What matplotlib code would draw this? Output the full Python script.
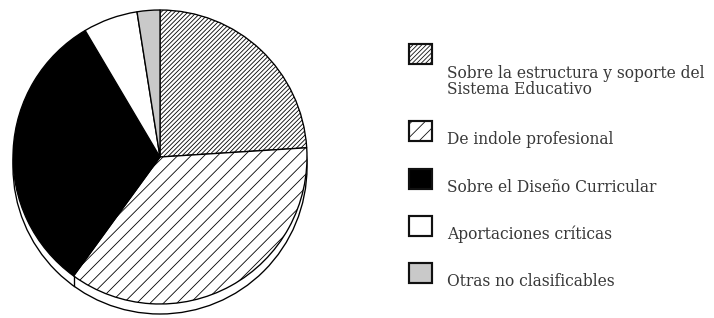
import numpy as np
import matplotlib.pyplot as plt
from matplotlib.patches import Circle, Rectangle

# shares of the pie (percent)
categories = ['Sobre la estructura y soporte del\nSistema Educativo',
              'De indole profesional',
              'Sobre el Diseño Curricular',
              'Aportaciones críticas',
              'Otras no clasificables']
shares = [24, 36, 31.5, 6, 2.5]

colors = ['white', 'white', 'black', 'white', '#c9c9c9']
hatches = ['/////////', '///', '', '', '']

plt.rcParams['hatch.linewidth'] = 0.5
plt.rcParams['hatch.color'] = '#222222'

DPI = 120
W, H = 714, 318
fig = plt.figure(figsize=(W / DPI, H / DPI), dpi=DPI)
ax = fig.add_axes([0, 0, 1, 1])

# pie geometry in pixel units (y up)
cx, cy, r = 160, 161, 147
depth = 10

# rim of the "disc" peeking out under the pie
ax.add_patch(Circle((cx, cy - depth), r, facecolor='white', edgecolor='black', linewidth=0.8))

wedges, _ = ax.pie(shares, colors=colors, hatch=hatches, startangle=90, counterclock=False,
                   radius=r, center=(cx, cy),
                   wedgeprops=dict(edgecolor='black', linewidth=0.8))

# little edge on the rim where slice 2 meets slice 3
a = np.deg2rad(90 - 360 * sum(shares[:2]) / sum(shares))
ex, ey = cx + r * np.cos(a), cy + r * np.sin(a)
ax.plot([ex, ex], [ey, ey - depth], color='black', lw=0.8)

# legend, drawn by hand
box_x, bw, bh = 409, 23, 20
box_y = [54, 131, 179, 226, 273]   # box centers, image coords (y down)
text_dy = 20                       # first text line sits lower than its box
line_gap = 16
for lab, c, h, yc in zip(categories, colors, hatches, box_y):
    y = H - yc
    ax.add_patch(Rectangle((box_x, y - bh / 2), bw, bh, facecolor=c, hatch=h,
                           edgecolor='#111111', linewidth=1.3))
    lines = lab.split('\n')
    dy = text_dy if len(lines) > 1 else 8
    for i, line in enumerate(lines):
        ax.text(box_x + 38, y - dy - i * line_gap, line, fontsize=9.3, family='DejaVu Serif',
                color='#383838', va='center', ha='left')

ax.set_xlim(0, W)
ax.set_ylim(0, H)
ax.axis('off')

fig.savefig('out.png', dpi=DPI, facecolor='white')
